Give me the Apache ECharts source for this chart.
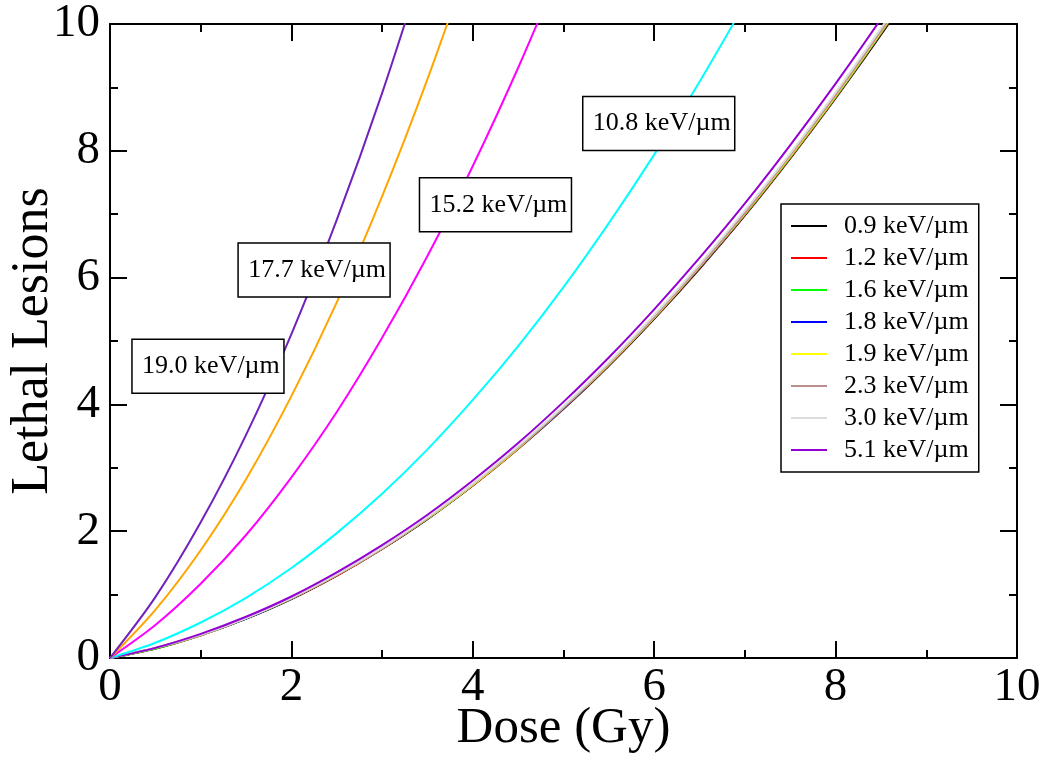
<!DOCTYPE html>
<html>
<head>
<meta charset="utf-8">
<script src="https://cdn.jsdelivr.net/npm/echarts@6/dist/echarts.min.js"></script>
<style>
html,body{margin:0;padding:0;background:#fff;}
#chart{width:1050px;height:767px;}
</style>
</head>
<body>
<div id="chart"></div>
<script>
// Dose grids (Gy)
const doseBundle = [0,0.5,1,1.5,2,2.5,3,3.5,4,4.5,5,5.5,6,6.5,7,7.5,8,8.5,9];
const doseCyan   = [0,0.5,1,1.5,2,2.5,3,3.5,4,4.5,5,5.5,6,6.5,7,7.5];
const doseMag    = [0,0.5,1,1.5,2,2.5,3,3.5,4,4.5,5];
const doseOrange = [0,0.5,1,1.5,2,2.5,3,3.5,4];
const doseIndigo = [0,0.5,1,1.5,2,2.5,3,3.5];

// Lethal lesions per series
const l09 = [0,0.15,0.36,0.62,0.93,1.30,1.72,2.19,2.72,3.30,3.93,4.61,5.35,6.14,6.98,7.88,8.83,9.83,10.89];
const l12 = [0,0.15,0.36,0.62,0.94,1.30,1.72,2.20,2.72,3.30,3.93,4.62,5.36,6.15,6.99,7.89,8.84,9.85,10.90];
const l16 = [0,0.15,0.36,0.62,0.94,1.31,1.73,2.20,2.73,3.31,3.94,4.63,5.37,6.16,7.00,7.90,8.85,9.86,10.92];
const l18 = [0,0.16,0.36,0.62,0.94,1.31,1.73,2.20,2.73,3.31,3.94,4.63,5.37,6.16,7.01,7.91,8.86,9.87,10.92];
const l19 = [0,0.16,0.36,0.63,0.94,1.31,1.73,2.20,2.73,3.31,3.95,4.63,5.37,6.17,7.01,7.91,8.86,9.87,10.93];
const l23 = [0,0.16,0.36,0.63,0.94,1.31,1.73,2.21,2.74,3.32,3.95,4.64,5.38,6.18,7.02,7.93,8.88,9.89,10.95];
const l30 = [0,0.16,0.37,0.63,0.95,1.32,1.74,2.22,2.75,3.34,3.97,4.66,5.41,6.21,7.06,7.96,8.92,9.93,11.00];
const l51 = [0,0.16,0.38,0.65,0.97,1.35,1.78,2.26,2.80,3.39,4.04,4.74,5.50,6.31,7.17,8.09,9.06,10.08,11.16];
const l108 = [0,0.24,0.56,0.95,1.42,1.97,2.59,3.29,4.07,4.92,5.85,6.86,7.94,9.09,10.33,11.64];
const l152 = [0,0.52,1.17,1.94,2.85,3.88,5.05,6.34,7.76,9.31,10.99];
const l177 = [0,0.76,1.70,2.82,4.13,5.61,7.28,9.13,11.16];
const l190 = [0,0.96,2.14,3.52,5.11,6.91,8.91,11.13];

const legendNames = ['0.9 keV/µm','1.2 keV/µm','1.6 keV/µm','1.8 keV/µm','1.9 keV/µm','2.3 keV/µm','3.0 keV/µm','5.1 keV/µm'];

// Annotation boxes: [dose, lesions, text] (box centre in data coordinates)
const annotations = [
  [1.08,4.60,'19.0 keV/µm'],
  [2.25,6.12,'17.7 keV/µm'],
  [4.25,7.15,'15.2 keV/µm'],
  [6.05,8.43,'10.8 keV/µm']
];

const FONT = '"Liberation Serif","DejaVu Serif",serif';
function pts(xs, ys){ return xs.map((x,i)=>[x,ys[i]]); }
function line(name, xs, ys, color){
  return {name:name, type:'line', data:pts(xs,ys), symbol:'none', smooth:0.3,
    lineStyle:{color:color, width:2}, itemStyle:{color:color}, animation:false, z:2};
}

const axisCommon = {
  type:'value', min:0, max:10, interval:2,
  axisLine:{show:true, onZero:false, lineStyle:{color:'#000', width:2}},
  axisTick:{show:true, inside:true, length:17, lineStyle:{color:'#000', width:2}},
  minorTick:{show:true, splitNumber:2, length:8, lineStyle:{color:'#000', width:2}},
  splitLine:{show:false}
};

const chart = echarts.init(document.getElementById('chart'), null, {renderer:'canvas'});
chart.setOption({
  backgroundColor:'#fff',
  animation:false,
  grid:{left:110, right:33, top:24, bottom:109, containLabel:false, outerBoundsMode:'none'},
  xAxis:[
    Object.assign({}, axisCommon, {position:'bottom',
      name:'Dose (Gy)', nameLocation:'middle', nameGap:45, nameMoveOverlap:false,
      nameTextStyle:{fontFamily:FONT, fontSize:51, color:'#000'},
      axisLabel:{show:true, fontFamily:FONT, fontSize:47, color:'#000', margin:6}}),
    Object.assign({}, axisCommon, {position:'top', axisLabel:{show:false}})
  ],
  yAxis:[
    Object.assign({}, axisCommon, {position:'left',
      name:'Lethal Lesions', nameLocation:'middle', nameGap:51, nameRotate:90, nameMoveOverlap:false,
      nameTextStyle:{fontFamily:FONT, fontSize:52, color:'#000'},
      axisLabel:{show:true, fontFamily:FONT, fontSize:47, color:'#000', margin:10}}),
    Object.assign({}, axisCommon, {position:'right', axisLabel:{show:false}})
  ],
  legend:{
    show:true,
    data:legendNames, orient:'vertical', left:781, top:204,
    backgroundColor:'#fff', borderColor:'#000', borderWidth:1.5,
    padding:[9,10,9,10], itemGap:6, itemWidth:36, itemHeight:2,
    icon:'rect',
    textStyle:{fontFamily:FONT, fontSize:26, color:'#000', lineHeight:26, padding:[0,0,0,12]},
    selectedMode:false
  },
  series:[
    line(legendNames[0], doseBundle, l09, '#000000'),
    line(legendNames[1], doseBundle, l12, '#ff0000'),
    line(legendNames[2], doseBundle, l16, '#00ff00'),
    line(legendNames[3], doseBundle, l18, '#0000ff'),
    line(legendNames[4], doseBundle, l19, '#ffff00'),
    line(legendNames[5], doseBundle, l23, '#bc8f8f'),
    line(legendNames[6], doseBundle, l30, '#dcdcdc'),
    line(legendNames[7], doseBundle, l51, '#9400d3'),
    line('10.8 keV/µm', doseCyan, l108, '#00ffff'),
    line('15.2 keV/µm', doseMag, l152, '#ff00ff'),
    line('17.7 keV/µm', doseOrange, l177, '#ffa500'),
    line('19.0 keV/µm', doseIndigo, l190, '#7221bc')
  ]
});

// Annotation boxes placed through the chart's own coordinate system
const boxes = [];
annotations.forEach(a => {
  const p = chart.convertToPixel({gridIndex:0}, [a[0], a[1]]);
  boxes.push({type:'rect', z:100, zlevel:0, silent:true,
    shape:{x:p[0]-76, y:p[1]-27, width:152, height:54},
    style:{fill:'#ffffff', stroke:'#000', lineWidth:1.5}});
  boxes.push({type:'text', z:101, zlevel:0, silent:true, x:p[0]+3, y:p[1],
    style:{text:a[2], fontFamily:FONT, fontSize:26, fill:'#000', align:'center', verticalAlign:'middle'}});
});
chart.setOption({graphic:{elements:boxes}});
</script>
</body>
</html>
